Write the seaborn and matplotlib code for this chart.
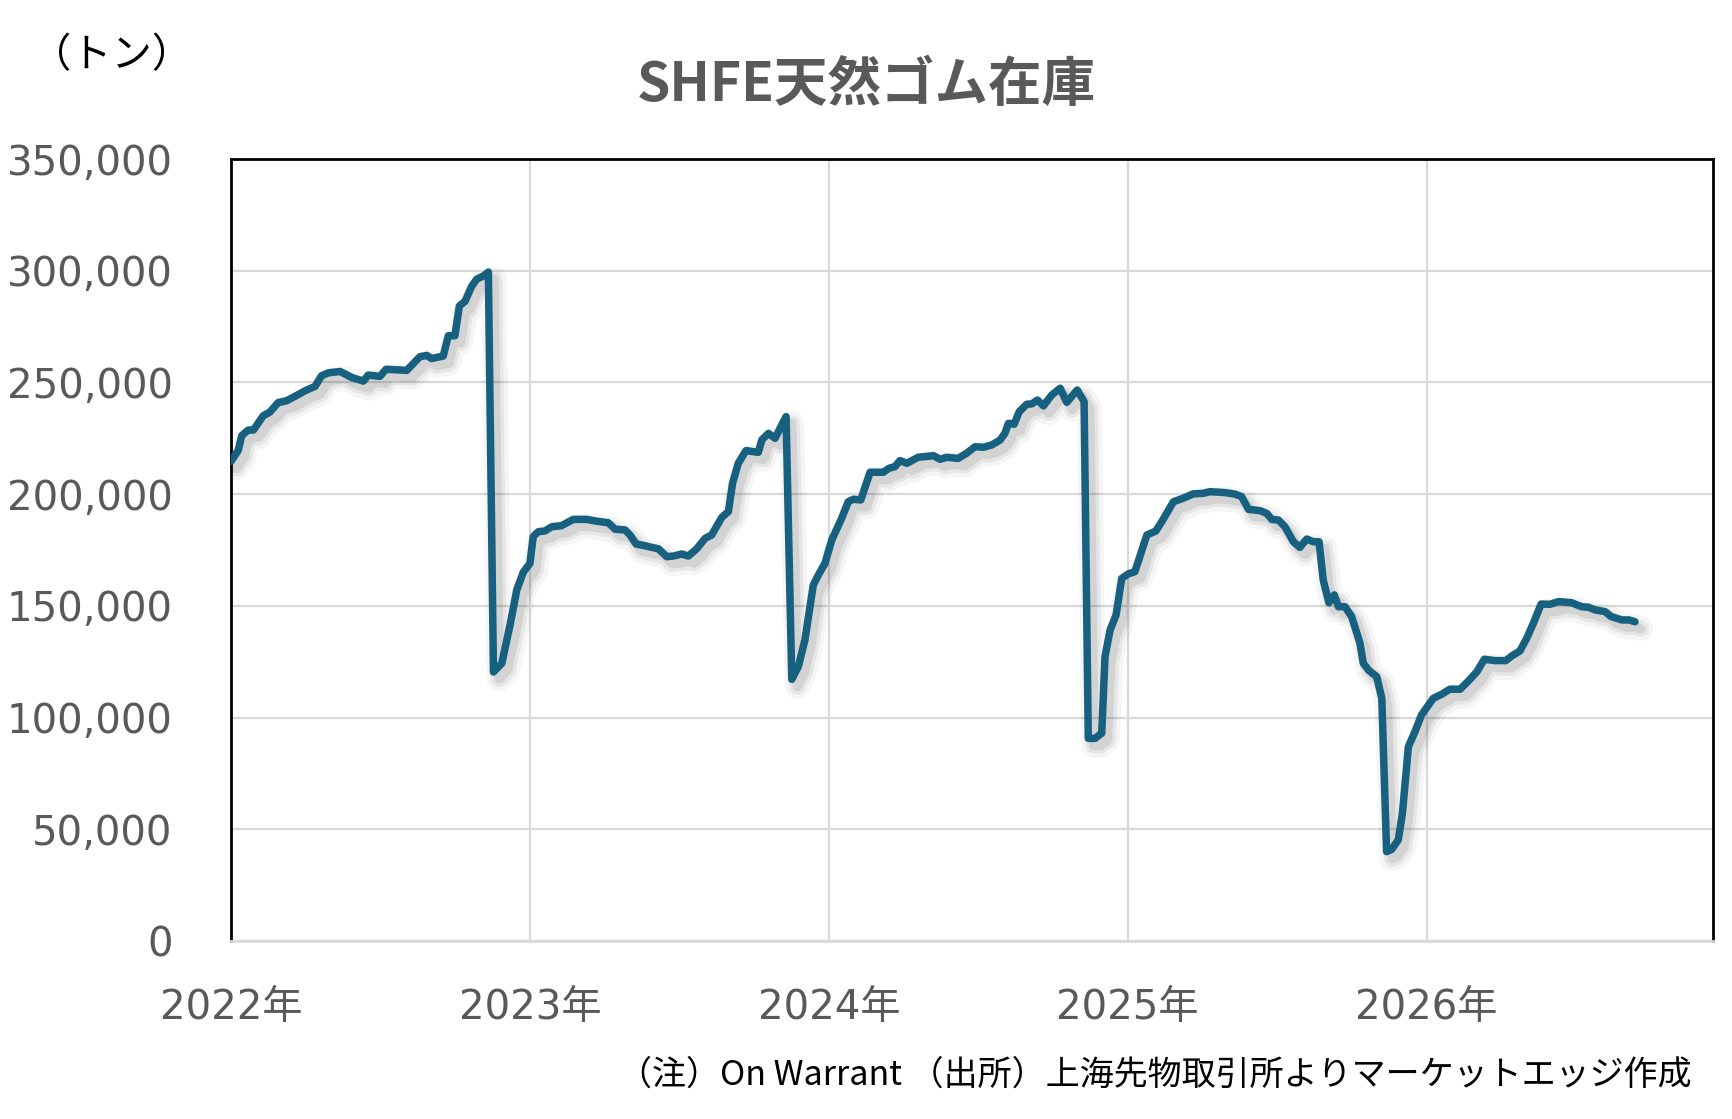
import matplotlib
matplotlib.use("Agg")
import matplotlib.pyplot as plt
import matplotlib.patheffects as pe
from matplotlib.ticker import FuncFormatter
import seaborn as sns
import pandas as pd

# ---- data (fractional year, tonnes) ----
t_2022 = [2022.000, 2022.024, 2022.036, 2022.058, 2022.075, 2022.108, 2022.130, 2022.158,
          2022.186, 2022.220, 2022.253, 2022.281, 2022.303, 2022.326, 2022.365, 2022.404,
          2022.443, 2022.459, 2022.498, 2022.519, 2022.588, 2022.632, 2022.655, 2022.671,
          2022.710, 2022.727, 2022.749, 2022.764, 2022.783, 2022.805, 2022.822, 2022.846,
          2022.861, 2022.878, 2022.906, 2022.933, 2022.956, 2022.978]
v_2022 = [214700, 219500, 226200, 228700, 228700, 235100, 236700, 241000,
          241800, 244200, 246600, 248200, 253000, 254300, 254900, 252200,
          250600, 253300, 252700, 255900, 255400, 261500, 262100, 260700,
          261800, 270900, 270900, 284200, 286300, 293000, 296200, 297800,
          299400, 120400, 124300, 141100, 157100, 165100]

t_2023 = [2023.000, 2023.011, 2023.028, 2023.050, 2023.073, 2023.106, 2023.145, 2023.190,
          2023.223, 2023.262, 2023.285, 2023.318, 2023.335, 2023.355, 2023.385, 2023.430,
          2023.458, 2023.480, 2023.508, 2023.530, 2023.558, 2023.586, 2023.608, 2023.642,
          2023.664, 2023.678, 2023.697, 2023.723, 2023.764, 2023.776, 2023.798, 2023.820,
          2023.834, 2023.857, 2023.876, 2023.898, 2023.920, 2023.948, 2023.965, 2023.987]
v_2023 = [169000, 181000, 183200, 183500, 185400, 185900, 188700, 188700,
          187900, 187200, 184300, 184000, 181700, 177700, 176900, 175500,
          172000, 172300, 173200, 172300, 175500, 180200, 181700, 189600,
          192200, 204900, 213800, 219500, 218700, 224300, 227200, 225000,
          228700, 234700, 117100, 122800, 134700, 159300, 163800, 169000]

t_2024 = [2024.010, 2024.043, 2024.065, 2024.082, 2024.107, 2024.138, 2024.182, 2024.202,
          2024.221, 2024.238, 2024.261, 2024.299, 2024.350, 2024.372, 2024.394, 2024.433,
          2024.461, 2024.489, 2024.517, 2024.545, 2024.573, 2024.589, 2024.601, 2024.620,
          2024.637, 2024.662, 2024.679, 2024.698, 2024.718, 2024.746, 2024.774, 2024.796,
          2024.831, 2024.854, 2024.868, 2024.891, 2024.913, 2024.924, 2024.941, 2024.961,
          2024.980]
v_2024 = [179500, 189200, 196600, 197700, 197400, 209800, 209800, 211600,
          212300, 215000, 213800, 216500, 217200, 215600, 216500, 216000,
          218300, 221200, 221000, 222000, 224200, 227200, 231700, 231300,
          236900, 240200, 240400, 242100, 239500, 244400, 247400, 241100,
          246600, 241400, 90700, 90700, 93000, 127300, 139200, 145900,
          162300]

t_2025 = [2025.002, 2025.024, 2025.064, 2025.094, 2025.114, 2025.153, 2025.186, 2025.219,
          2025.253, 2025.275, 2025.326, 2025.359, 2025.381, 2025.404, 2025.443, 2025.465,
          2025.482, 2025.504, 2025.526, 2025.554, 2025.576, 2025.599, 2025.621, 2025.640,
          2025.654, 2025.673, 2025.691, 2025.705, 2025.727, 2025.749, 2025.777, 2025.788,
          2025.805, 2025.833, 2025.850, 2025.866, 2025.883, 2025.905, 2025.919, 2025.939,
          2025.961, 2025.983]
v_2025 = [164300, 165300, 181700, 183500, 187700, 196600, 198200, 200100,
          200400, 201100, 200700, 200000, 198900, 193200, 192600, 191400,
          188700, 188400, 185400, 178700, 176200, 179900, 178700, 178700,
          161600, 151400, 154900, 149600, 149600, 145200, 133300, 124300,
          121300, 118300, 108600, 40000, 41000, 45200, 57200, 87000,
          93700, 101200]

t_2026 = [2026.022, 2026.050, 2026.078, 2026.112, 2026.140, 2026.168, 2026.193, 2026.229,
          2026.265, 2026.285, 2026.312, 2026.335, 2026.357, 2026.383, 2026.413, 2026.441,
          2026.485, 2026.519, 2026.541, 2026.563, 2026.597, 2026.617, 2026.653, 2026.677,
          2026.697]
v_2026 = [108600, 110400, 112700, 112700, 116400, 120500, 126100, 125500,
          125500, 127600, 129800, 135500, 142200, 150800, 150700, 151900,
          151400, 149600, 149400, 148200, 147400, 145200, 143700, 143700,
          142900]

years = [2022, 2023, 2024, 2025, 2026]
year_labels = ["2022年", "2023年", "2024年", "2025年", "2026年"]
y_ticks = [0, 50000, 100000, 150000, 200000, 250000, 300000, 350000]

title = "SHFE天然ゴム在庫"
unit_label = "（トン）"
footnote = "（注）On Warrant （出所）上海先物取引所よりマーケットエッジ作成"

df = pd.DataFrame({"t": t_2022 + t_2023 + t_2024 + t_2025 + t_2026,
                   "v": v_2022 + v_2023 + v_2024 + v_2025 + v_2026})

# ---- style ----
sns.set_style("white")
plt.rcParams["font.family"] = ["DejaVu Sans", "Noto Sans CJK JP"]

fig = plt.figure(figsize=(17.33, 11.19), dpi=100)
ax = fig.add_axes([231 / 1733, 1 - 941 / 1119, (1713 - 231) / 1733, (941 - 159) / 1119])

line_color = "#17607F"
grid_color = "#D9D9D9"
text_grey = "#595959"

sns.lineplot(data=df, x="t", y="v", ax=ax, color=line_color, linewidth=5.4,
             estimator=None, sort=False, zorder=5)
ln = ax.lines[-1]
ln.set_solid_joinstyle("round")
ln.set_solid_capstyle("round")
ln.set_path_effects([
    pe.SimpleLineShadow(offset=(4, -5), shadow_color="black", alpha=0.04, linewidth=18),
    pe.SimpleLineShadow(offset=(4, -5), shadow_color="black", alpha=0.06, linewidth=12),
    pe.SimpleLineShadow(offset=(4, -5), shadow_color="black", alpha=0.08, linewidth=7),
    pe.Normal(),
])

ax.set_xlim(2022, 2026.958)
ax.set_ylim(0, 350000)
ax.set_xticks(years)
ax.set_xticklabels(year_labels)
ax.set_yticks(y_ticks)
ax.yaxis.set_major_formatter(FuncFormatter(lambda v, p: f"{int(v):,}"))
ax.set_xlabel("")
ax.set_ylabel("")

ax.grid(True, color=grid_color, linewidth=1.6, zorder=0)
ax.set_axisbelow(True)
ax.tick_params(axis="both", length=0, labelsize=29, labelcolor=text_grey)
ax.tick_params(axis="y", pad=42)
ax.tick_params(axis="x", pad=34)

for side in ["left", "top", "right"]:
    ax.spines[side].set_color("black")
    ax.spines[side].set_linewidth(2.0)
    ax.spines[side].set_visible(True)
ax.spines["bottom"].set_color(grid_color)
ax.spines["bottom"].set_linewidth(2.0)
ax.spines["bottom"].set_visible(True)

fig.text(0.5, 1 - 86 / 1119, title, ha="center", va="center", fontsize=38.5,
         fontweight="bold", color=text_grey, family=["Noto Sans CJK JP", "DejaVu Sans"])
fig.text(112 / 1733, 1 - 56 / 1119, unit_label, ha="center", va="center", fontsize=29,
         color="black", family=["Noto Sans CJK JP", "DejaVu Sans"])
fig.text(1692 / 1733, 1 - 1075 / 1119, footnote, ha="right", va="center", fontsize=24.5,
         color="black", family=["Noto Sans CJK JP", "DejaVu Sans"])

fig.savefig("out.png", dpi=100, facecolor="white")
